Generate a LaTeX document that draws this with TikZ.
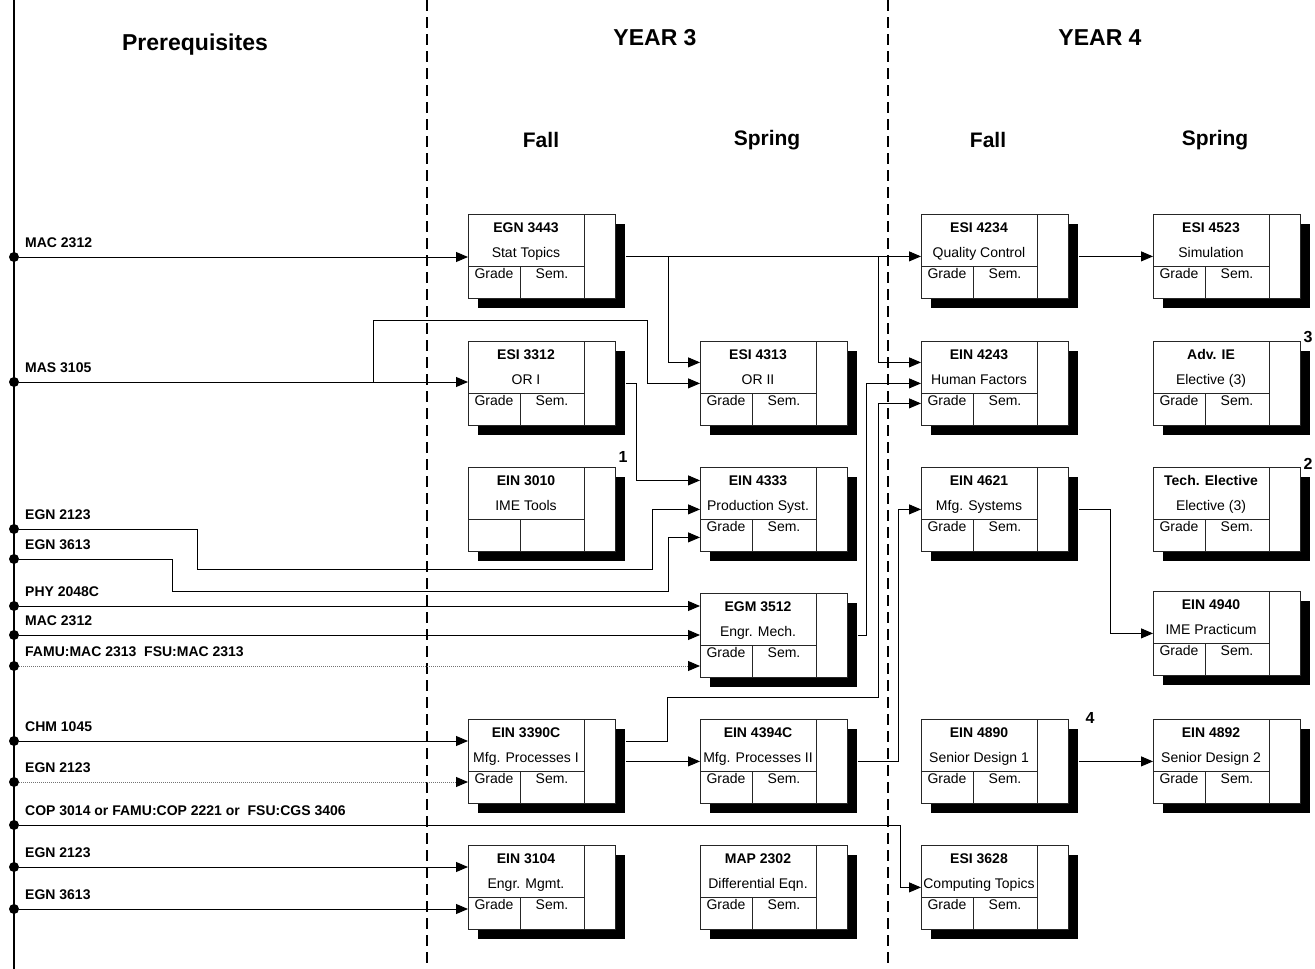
\documentclass[tikz,border=0pt]{standalone}
\usepackage{fontspec}
\setmainfont{Liberation Sans}
\usetikzlibrary{shapes,arrows.meta,calc}
\tikzstyle{cbox} = [rectangle, draw=black!85, fill=white, line width=0.8pt,
    minimum width=147pt, minimum height=84pt, inner sep=0pt, anchor=north west]
\tikzstyle{shade} = [fill=black]
\tikzstyle{cell} = [draw=black!85, line width=0.8pt]
\tikzstyle{code} = [font=\fontsize{14}{16}\selectfont\bfseries, inner sep=0pt,
    text height=10pt, text depth=3pt]
\tikzstyle{txt} = [font=\fontsize{14}{16}\selectfont, inner sep=0pt,
    text height=10pt, text depth=3pt]
\tikzstyle{prq} = [font=\fontsize{14}{16}\selectfont\bfseries, anchor=west, inner sep=0pt]
\tikzstyle{head} = [font=\fontsize{21}{25}\selectfont\bfseries]
\tikzstyle{bighead} = [font=\fontsize{23}{27}\selectfont\bfseries]
\tikzstyle{num} = [font=\fontsize{16}{18}\selectfont\bfseries]
\tikzstyle{pdot} = [circle, fill=black, inner sep=0pt, minimum size=10pt]
\tikzstyle{line} = [draw, line width=0.9pt, -{Triangle[length=12pt,width=10pt]}]
\tikzstyle{dline} = [draw=black!55, line width=0.9pt, dash pattern=on 1pt off 1pt,
    -{Triangle[length=12pt,width=10pt,color=black]}]
\tikzstyle{sep} = [draw, line width=1.2pt, dash pattern=on 11pt off 6pt]
\newcommand{\coursebox}[4]{%
    % shadow behind the box
    \fill[shade] ($(#2)+(10,10)$) rectangle ++(147,84);
    % outer frame
    \node[cbox] (#1) at (#2) {};
    % right column, header line, grade/semester split
    \draw[cell] ([xshift=116pt]#1.north west) -- ([xshift=116pt]#1.south west);
    \draw[cell] ([yshift=-52pt]#1.north west) -- ([xshift=116pt,yshift=-52pt]#1.north west);
    \draw[cell] ([xshift=52pt,yshift=-52pt]#1.north west) -- ([xshift=52pt]#1.south west);
    \node[code] at ([xshift=58pt,yshift=-15pt]#1.north west) {#3};
    \node[txt] at ([xshift=58pt,yshift=-40pt]#1.north west) {#4};}
\newcommand{\course}[4]{%
    \coursebox{#1}{#2}{#3}{#4}
    \node[txt] at ([xshift=26pt,yshift=-61pt]#1.north west) {Grade};
    \node[txt] at ([xshift=84pt,yshift=-61pt]#1.north west) {Sem.};}
\begin{document}
\begin{tikzpicture}[x=1pt, y=-1pt]
        \useasboundingbox (0,0) rectangle (1315,969);
        % Column separators
        \draw[line width=1.3pt] (14,0) -- (14,969);
        \path[sep] (427,0) -- (427,969);
        \path[sep] (888,0) -- (888,969);

        % Headings
        \node[bighead] (hpre) at (195,45) {Prerequisites};
        \node[bighead] (hy3) at (655,38) {YEAR 3};
        \node[bighead] (hy4) at (1100,38) {YEAR 4};
        \node[head] (hf3) at (541,140) {Fall};
        \node[head] (hs3) at (767,140) {Spring};
        \node[head] (hf4) at (988,140) {Fall};
        \node[head] (hs4) at (1215,140) {Spring};

        % Year 3, fall
        \course{egn3443}{468,214}{EGN 3443}{Stat Topics}
        \course{esi3312}{468,341}{ESI 3312}{OR I}
        \coursebox{ein3010}{468,467}{EIN 3010}{IME Tools}
        \course{ein3390c}{468,719}{EIN 3390C}{Mfg. Processes I}
        \course{ein3104}{468,845}{EIN 3104}{Engr. Mgmt.}

        % Year 3, spring
        \course{esi4313}{700,341}{ESI 4313}{OR II}
        \course{ein4333}{700,467}{EIN 4333}{Production Syst.}
        \course{egm3512}{700,593}{EGM 3512}{Engr. Mech.}
        \course{ein4394c}{700,719}{EIN 4394C}{Mfg. Processes II}
        \course{map2302}{700,845}{MAP 2302}{Differential Eqn.}

        % Year 4, fall
        \course{esi4234}{921,214}{ESI 4234}{Quality Control}
        \course{ein4243}{921,341}{EIN 4243}{Human Factors}
        \course{ein4621}{921,467}{EIN 4621}{Mfg. Systems}
        \course{ein4890}{921,719}{EIN 4890}{Senior Design 1}
        \course{esi3628}{921,845}{ESI 3628}{Computing Topics}

        % Year 4, spring
        \course{esi4523}{1153,214}{ESI 4523}{Simulation}
        \course{advie}{1153,341}{Adv. IE}{Elective (3)}
        \course{techel}{1153,467}{Tech. Elective}{Elective (3)}
        \course{ein4940}{1153,591}{EIN 4940}{IME Practicum}
        \course{ein4892}{1153,719}{EIN 4892}{Senior Design 2}

        % Footnote numbers
        \node[num] (n1) at (623,457) {1};
        \node[num] (n3) at (1308,337) {3};
        \node[num] (n2) at (1308,464) {2};
        \node[num] (n4) at (1090,718) {4};

        % Prerequisite taps on the left rail
        \foreach \y/\n/\t in {257/p1/MAC 2312, 382/p2/MAS 3105, 529/p3/EGN 2123,
                559/p4/EGN 3613, 606/p5/PHY 2048C, 635/p6/MAC 2312,
                666/p7/FAMU:MAC 2313~ FSU:MAC 2313, 741/p8/CHM 1045, 782/p9/EGN 2123,
                825/p10/COP 3014 or FAMU:COP 2221 or~ FSU:CGS 3406,
                867/p11/EGN 2123, 909/p12/EGN 3613}{
            \node[pdot] (\n) at (14,\y) {};
            \node[prq] (\n-l) at (25,\y-14) {\t};
        }

        % Draw edges
        \path[line] (p1) -- (p1 -| egn3443.west);
        \path[line] (p2) -- (p2 -| esi3312.west);
        \path[line] (373,382) |- (647,320) |- (esi4313.west);
        \path[line] ([xshift=10pt]egn3443.east) -- (esi4234.west);
        \path[line] (668,256) |- ([yshift=21pt]esi4313.west);
        \path[line] (878,256) |- ([yshift=21pt]ein4243.west);
        \path[line] ([xshift=10pt]esi3312.east) -- ++(11,0) |- ([yshift=29pt]ein4333.west);
        \path[line] (p3) -| (197,569) -- (652,569) |- (ein4333.west);
        \path[line] (p4) -| (172,591) -- (668,591) |- ([yshift=-28pt]ein4333.west);
        \path[line] (p5) -- (p5 -| egm3512.west);
        \path[line] (p6) -- (p6 -| egm3512.west);
        \path[dline] (p7) -- (p7 -| egm3512.west);
        \path[line] ([xshift=10pt]egm3512.east) -- ++(9,0) |- (ein4243.west);
        \path[line] (p8) -- (p8 -| ein3390c.west);
        \path[dline] (p9) -- (p9 -| ein3390c.west);
        \path[line] ([xshift=10pt]ein3390c.east) -- (ein4394c.west);
        \path[line] ([xshift=10pt,yshift=20pt]ein3390c.east) -- ++(42,0) |- (878,697)
            |- ([yshift=-20pt]ein4243.west);
        \path[line] ([xshift=10pt]ein4394c.east) -- ++(41,0) |- (ein4621.west);
        \path[line] (p10) -- (900,825) |- (esi3628.west);
        \path[line] (p11) -- (p11 -| ein3104.west);
        \path[line] (p12) -- (p12 -| ein3104.west);
        \path[line] ([xshift=10pt]esi4234.east) -- (esi4523.west);
        \path[line] ([xshift=10pt]ein4621.east) -- ++(32,0) |- (ein4940.west);
        \path[line] ([xshift=10pt]ein4890.east) -- (ein4892.west);
\end{tikzpicture}
\end{document}
